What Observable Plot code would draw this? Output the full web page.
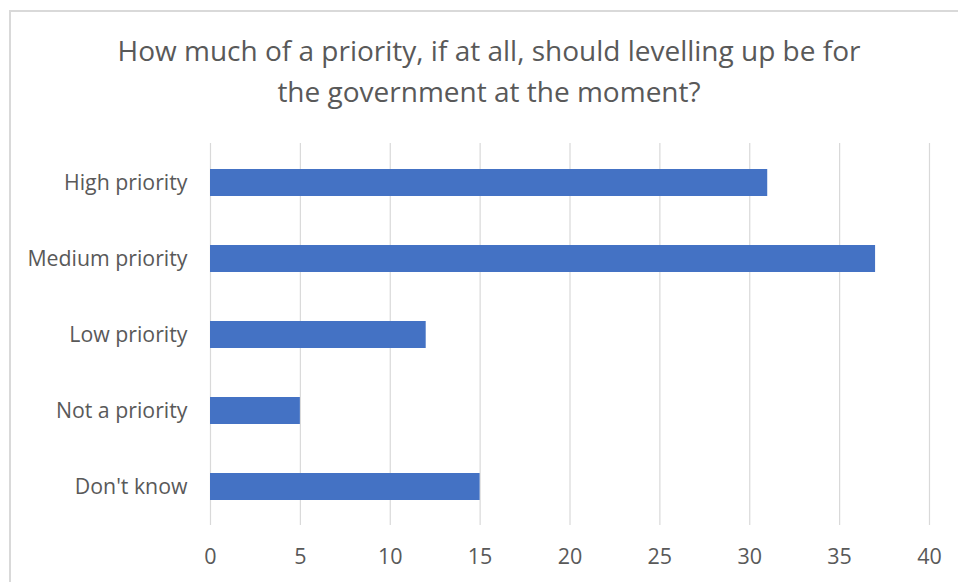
<!DOCTYPE html>
<html>
<head>
<meta charset="utf-8">
<script src="https://cdn.jsdelivr.net/npm/d3@7"></script>
<script src="https://cdn.jsdelivr.net/npm/@observablehq/plot@0.6"></script>
<style>
  html, body { margin: 0; padding: 0; background: #fff; }
  #chart { position: relative; width: 958px; height: 582px; overflow: hidden; background: #fff; }
  #frame { position: absolute; left: 9px; top: 10px; width: 980px; height: 620px; border: 2px solid #d9d9d9; box-sizing: border-box; }
  #title { position: absolute; left: 10px; top: 30px; width: 958px; text-align: center;
           font-family: "Open Sans", sans-serif; font-size: 28px; line-height: 41px; color: #595959; }
  #plot { position: absolute; left: 0; top: 120px; }
</style>
</head>
<body>
<div id="chart">
  <div id="frame"></div>
  <div id="title">How much of a priority, if at all, should levelling up be for<br>the government at the moment?</div>
  <div id="plot"></div>
</div>
<script>
const categories = ["High priority", "Medium priority", "Low priority", "Not a priority", "Don't know"];
const values = [31, 37, 12, 5, 15];
const xTicks = [0, 5, 10, 15, 20, 25, 30, 35, 40];

const data = categories.map((c, i) => ({category: c, value: values[i]}));

const chart = Plot.plot({
  width: 958,
  height: 462,
  marginTop: 23,
  marginBottom: 57,
  marginLeft: 210,
  marginRight: 29,
  style: {fontFamily: "Open Sans, sans-serif", fontSize: "21px", color: "#595959", background: "transparent"},
  x: {domain: [0, 40]},
  y: {domain: categories, paddingInner: 0.647, paddingOuter: 0.3235},
  marks: [
    Plot.gridX(xTicks, {stroke: "#d9d9d9", strokeOpacity: 1, strokeWidth: 1.2}),
    Plot.barX(data, {x: "value", y: "category", fill: "#4472C4"}),
    Plot.axisX({ticks: xTicks, tickSize: 0, tickPadding: 23, label: null, fontSize: 21.5, fill: "#595959"}),
    Plot.axisY({tickSize: 0, tickPadding: 23, label: null, fontSize: 21.3, fill: "#595959"})
  ]
});
document.getElementById("plot").appendChild(chart);
</script>
</body>
</html>
